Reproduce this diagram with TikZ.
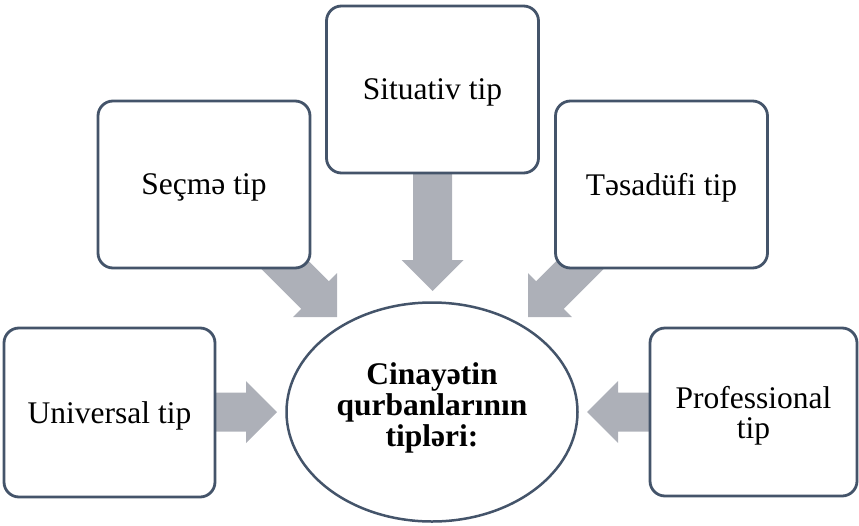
\documentclass[tikz,border=0pt]{standalone}
\usepackage{fontspec}
\setmainfont{Liberation Serif}
\usetikzlibrary{shapes.geometric,calc}
\definecolor{edgeblue}{RGB}{68,84,106}
\definecolor{arrowgray}{RGB}{173,176,184}
\tikzset{
  tipbox/.style={draw=edgeblue, line width=2.8pt, fill=white, rounded corners=15pt,
    minimum width=210pt, minimum height=166pt, align=center, inner sep=0pt,
    text depth=0pt, font=\fontsize{31.5}{30}\selectfont},
  centreoval/.style={ellipse, draw=edgeblue, line width=2.5pt, fill=white,
    minimum width=291pt, minimum height=219pt, align=center, inner sep=0pt,
    text depth=14pt, font=\fontsize{31.5}{31}\selectfont\bfseries},
  arrowfill/.style={fill=arrowgray, draw=none}
}
\newcommand\blockarrow[2]{%
  \coordinate (hb) at ($(#2)!31pt!(#1)$);
  \path[arrowfill] ($(#1)!19.5pt!90:(#2)$) -- ($(hb)!19.5pt!90:(#2)$) -- ($(hb)!31pt!90:(#2)$)
    -- (#2) -- ($(hb)!31pt!-90:(#2)$) -- ($(hb)!19.5pt!-90:(#2)$) -- ($(#1)!19.5pt!-90:(#2)$) -- cycle;}
\begin{document}
\begin{tikzpicture}[x=1pt, y=-1pt]
\useasboundingbox (0,0) rectangle (859,525);
% arrow end points
\coordinate (tUni) at (277,412);
\coordinate (tPro) at (587,412);
\coordinate (tSit) at (432.5,291);
\coordinate (tSec) at (337,317);
\coordinate (tTes) at (528,317);
\coordinate (sUni) at (200,412);
\coordinate (sPro) at (665,412);
\coordinate (sSit) at (432.5,160);
\coordinate (sSec) at (270,250);
\coordinate (sTes) at (595,250);
% arrows (drawn below the boxes)
\blockarrow{sUni}{tUni}
\blockarrow{sPro}{tPro}
\blockarrow{sSit}{tSit}
\blockarrow{sSec}{tSec}
\blockarrow{sTes}{tTes}
% boxes
\node[tipbox, minimum width=211pt, minimum height=169pt] (uni) at (109.5,412.5) {Universal tip};
\node[tipbox, minimum width=207pt, minimum height=168pt] (pro) at (753.5,412) {Professional\\tip};
\node[tipbox, minimum width=212pt, minimum height=167pt] (sec) at (204,184.5) {Seçmə tip};
\node[tipbox, minimum width=212pt, minimum height=167pt] (sit) at (432.5,89.5) {Situativ tip};
\node[tipbox, minimum width=212pt, minimum height=167pt] (tes) at (661.5,184.5) {Təsadüfi tip};
% centre
\node[centreoval] (ctr) at (432,412) {Cinayətin\\qurbanlarının\\tipləri:};
\end{tikzpicture}
\end{document}
